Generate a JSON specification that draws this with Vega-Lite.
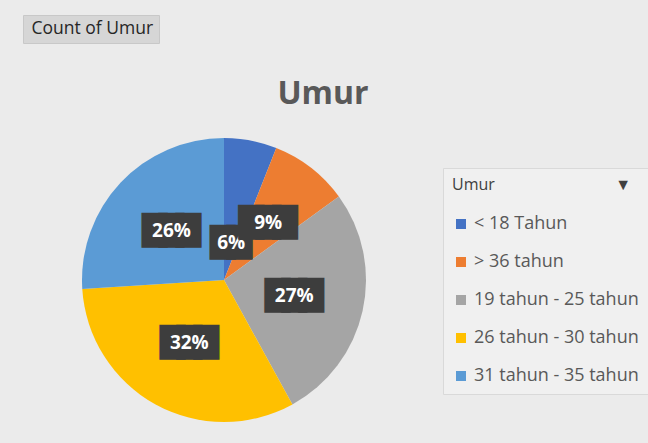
{
  "$schema": "https://vega.github.io/schema/vega-lite/v6.json",
  "autosize": {"type": "none"},
  "width": 290,
  "height": 290,
  "padding": {"left": 79, "top": 135, "right": 279, "bottom": 18},
  "background": "#ebebeb",
  "config": {"view": {"stroke": null}, "font": "Open Sans"},
  "title": {"text": "Umur", "fontSize": 32, "fontWeight": "bold", "color": "#595959", "anchor": "middle", "frame": "group", "dx": 99, "offset": -121, "baseline": "alphabetic", "font": "Open Sans"},
  "data": {"values": [
    {"umur": "< 18 Tahun", "pct": 0.06, "urut": 1},
    {"umur": "> 36 tahun", "pct": 0.09, "urut": 2},
    {"umur": "19 tahun - 25 tahun", "pct": 0.27, "urut": 3},
    {"umur": "26 tahun - 30 tahun", "pct": 0.32, "urut": 4},
    {"umur": "31 tahun - 35 tahun", "pct": 0.26, "urut": 5}
  ]},
  "encoding": {
    "theta": {"field": "pct", "type": "quantitative", "stack": true},
    "order": {"field": "urut", "type": "ordinal"}
  },
  "layer": [
    {
      "mark": {"type": "arc", "outerRadius": 142},
      "encoding": {
        "color": {
          "field": "umur", "type": "nominal",
          "scale": {
            "domain": ["< 18 Tahun", "> 36 tahun", "19 tahun - 25 tahun", "26 tahun - 30 tahun", "31 tahun - 35 tahun"],
            "range": ["#4472C4", "#ED7D31", "#A5A5A5", "#FFC000", "#5B9BD5"]
          },
          "legend": {
            "title": "Umur\u00a0\u00a0\u00a0\u00a0\u00a0\u00a0\u00a0\u00a0\u00a0\u00a0\u00a0\u00a0\u00a0\u00a0\u00a0\u00a0\u00a0\u00a0\u00a0\u00a0\u00a0\u00a0\u00a0\u00a0\u00a0\u00a0\u00a0\u00a0\u00a0\u25BC",
            "orient": "none", "legendX": 364, "legendY": 33,
            "titleFontSize": 16, "titleFontWeight": "normal", "titleColor": "#404040", "titlePadding": 22, "titleFont": "Open Sans",
            "padding": 9, "fillColor": "#f0f0f0", "strokeColor": "#d9d9d9",
            "symbolType": "square", "symbolSize": 100, "symbolStrokeWidth": 0,
            "labelFontSize": 18, "labelColor": "#595959", "labelFont": "Open Sans", "labelOffset": 4, "labelLimit": 250,
            "rowPadding": 20
          }
        }
      }
    },
    {
      "mark": {"type": "text", "radius": 38, "fontSize": 22, "color": "#3d3d3d", "stroke": "#3d3d3d", "strokeWidth": 9, "strokeJoin": "miter", "font": "DejaVu Sans", "baseline": "middle"},
      "encoding": {
        "text": {"condition": {"test": "datum.urut == 1", "value": "██"}, "value": ""}
      }
    },
    {
      "mark": {"type": "text", "radius": 38, "fontSize": 19, "fontWeight": "bold", "color": "white", "font": "Open Sans", "baseline": "middle"},
      "encoding": {
        "text": {"condition": {"test": "datum.urut == 1", "field": "pct", "type": "quantitative", "format": ".0%"}, "value": ""}
      }
    },
    {
      "mark": {"type": "text", "radius": 72, "fontSize": 22, "color": "#3d3d3d", "stroke": "#3d3d3d", "strokeWidth": 9, "strokeJoin": "miter", "font": "DejaVu Sans", "baseline": "middle"},
      "encoding": {
        "text": {"condition": {"test": "datum.urut != 1", "value": "███"}, "value": ""}
      }
    },
    {
      "mark": {"type": "text", "radius": 72, "fontSize": 19, "fontWeight": "bold", "color": "white", "font": "Open Sans", "baseline": "middle"},
      "encoding": {
        "text": {"condition": {"test": "datum.urut != 1", "field": "pct", "type": "quantitative", "format": ".0%"}, "value": ""},
        "opacity": {
          "datum": "Count of Umur", "type": "ordinal",
          "scale": {"range": [1]},
          "legend": {
            "title": null, "orient": "none", "legendX": -56, "legendY": -120,
            "fillColor": "#d6d6d6", "strokeColor": "#c8c8c8", "padding": 5,
            "symbolSize": 0, "symbolOpacity": 0, "symbolStrokeWidth": 0,
            "labelFontSize": 17.5, "labelColor": "#262626", "labelOffset": -14, "labelFont": "Open Sans"
          }
        }
      }
    }
  ]
}
